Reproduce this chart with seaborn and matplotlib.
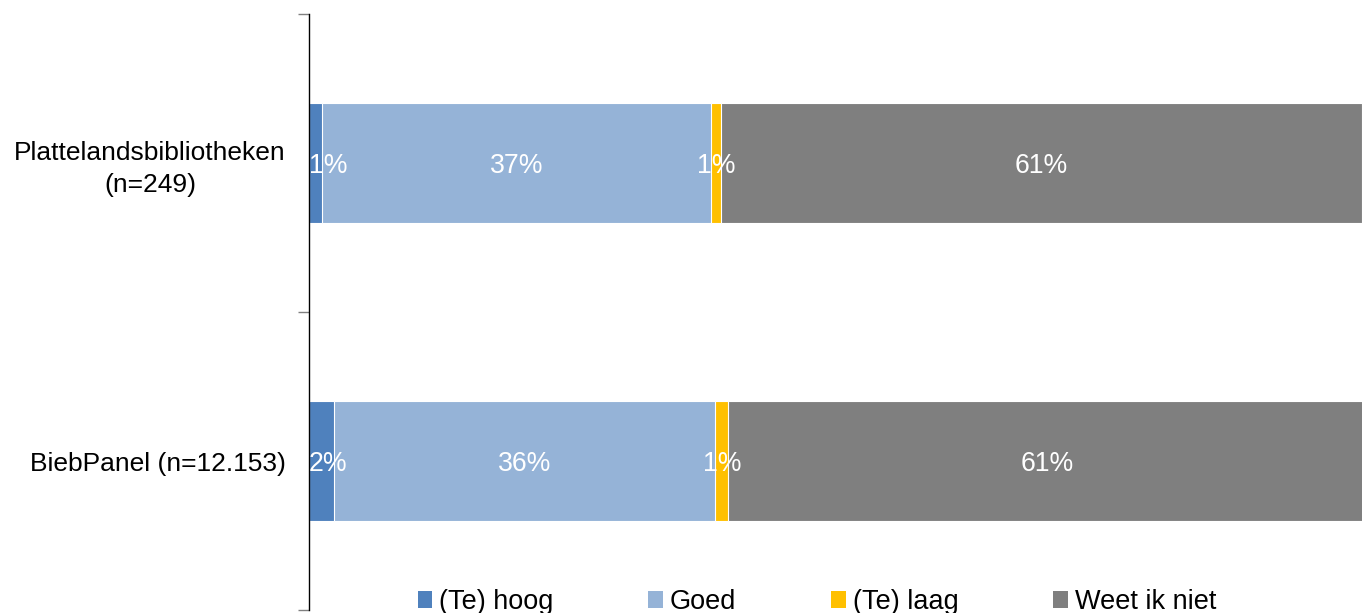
import matplotlib
matplotlib.use("Agg")
import matplotlib.pyplot as plt
import seaborn as sns
import pandas as pd
import numpy as np
from matplotlib.patches import Patch

# ---- data ----
groups = ["Plattelandsbibliotheken\n(n=249)", "BiebPanel (n=12.153)"]
series = ["(Te) hoog", "Goed", "(Te) laag", "Weet ik niet"]
te_hoog = [1.2, 2.4]
goed = [37.0, 36.2]
te_laag = [0.9, 1.2]
weet_niet = [60.9, 60.6]
colors = ["#4F81BD", "#95B3D7", "#FFC000", "#7F7F7F"]

sns.set_theme(style="white")
plt.rcParams['font.family'] = ['Liberation Sans', 'DejaVu Sans']
plt.rcParams['text.color'] = 'black'

W, H = 1362, 613
fig = plt.figure(figsize=(W / 100, H / 100), dpi=100)
ax = fig.add_axes([309 / W, 3 / H, 1 - 309 / W, 596 / H])

values = np.array([te_hoog, goed, te_laag, weet_niet])
cum = values.cumsum(axis=0)

for i in reversed(range(len(series))):
    df = pd.DataFrame({"group": groups, "value": cum[i]})
    sns.barplot(data=df, x="value", y="group", orient="h", color=colors[i],
                saturation=1, width=0.4, edgecolor="white", linewidth=0.8,
                ax=ax, errorbar=None)

ax.set_xlim(0, 100)
ax.set_ylim(1.5, -0.5)
ax.set_xlabel("")
ax.set_ylabel("")
ax.set_xticks([])
for s in ["top", "right", "bottom"]:
    ax.spines[s].set_visible(False)
ax.spines["left"].set_color("black")
ax.spines["left"].set_linewidth(1)

ax.set_yticks([-0.5, 0.5, 1.5], minor=True)
ax.tick_params(axis="y", which="minor", left=True, length=8, width=1, color="#808080")
ax.tick_params(axis="y", which="major", left=False, length=0, pad=16.6,
               labelsize=19, labelcolor="black")
for lbl in ax.get_yticklabels():
    lbl.set_multialignment("center")
    lbl.set_linespacing(1.4)

# data labels
fig.canvas.draw()
renderer = fig.canvas.get_renderer()
left_px = ax.get_window_extent(renderer).x0
for j in range(len(groups)):
    for i in range(len(series)):
        v = values[i][j]
        center = cum[i][j] - v / 2
        t = ax.annotate(f"{v:.0f}%", xy=(center, j), xytext=(0, -7.2),
                        textcoords="offset points", ha="center", va="baseline",
                        color="white", fontsize=19.2, annotation_clip=False)
        t.set_clip_on(True)
        ext = t.get_window_extent(renderer)
        if ext.x0 < left_px:
            t.xy = (0, j)
            t.set_ha("left")

handles = [Patch(facecolor=c, edgecolor="none") for c in colors]
fig.legend(handles, series, loc="center", bbox_to_anchor=(817 / W, 1 - 602 / H),
           ncol=4, frameon=False, fontsize=19.5, labelcolor="black",
           handlelength=0.55, handleheight=0.55, handletextpad=0.25,
           columnspacing=3.5, borderpad=0)

fig.savefig("out.png", dpi=100)
